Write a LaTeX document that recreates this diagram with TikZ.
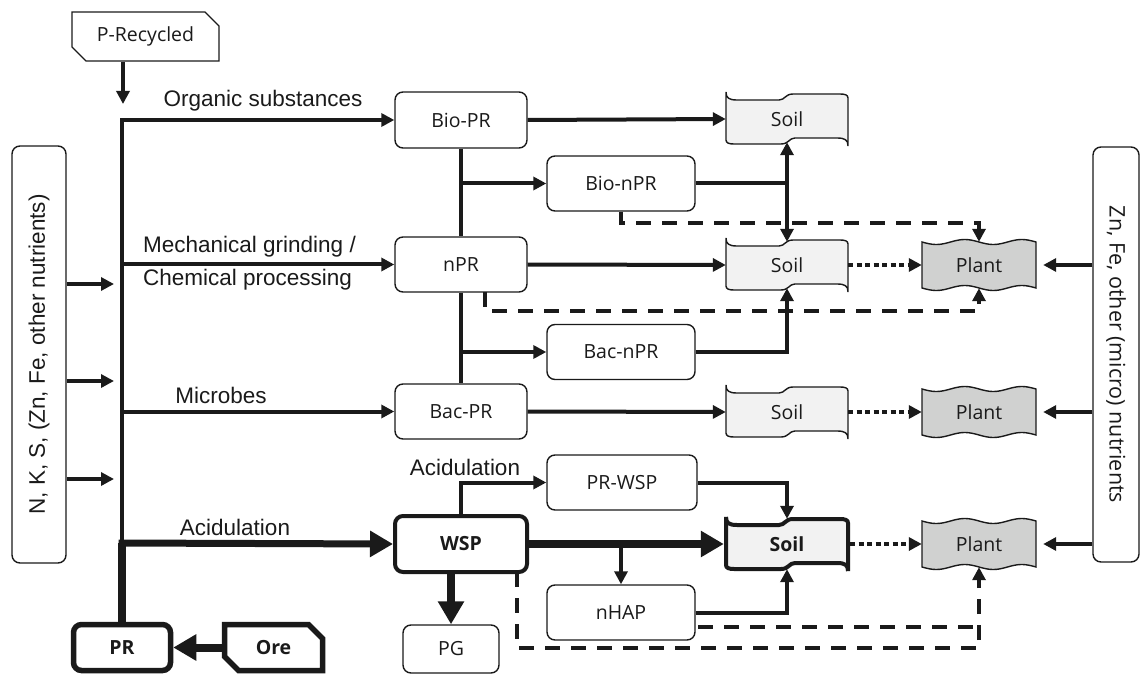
\documentclass[tikz,border=0pt]{standalone}
\usepackage{fontspec}
\setmainfont{Open Sans}
\newfontfamily\arialf{Liberation Sans}
\usetikzlibrary{arrows.meta,shapes.misc,calc}
\definecolor{ink}{HTML}{1A1A1A}
\definecolor{soilfill}{HTML}{F2F2F2}
\definecolor{plantfill}{HTML}{D0D1D0}
\newcommand\soilshape[3]{%
  \draw[#3,shift={(#1,#2)}] (-61,-27) .. controls (-61,-21) and (-58,-19) .. (-50,-19) -- (-8,-19)
   .. controls (-2,-19) and (-2,-25) .. (6,-25) -- (53,-25) .. controls (58,-25) and (61,-24) .. (61,-21)
   -- (61,27) .. controls (61,21) and (58,19) .. (50,19) -- (8,19) .. controls (2,19) and (2,25) .. (-6,25)
   -- (-53,25) .. controls (-58,25) and (-61,24) .. (-61,21) -- cycle;}
\newcommand\plantshape[2]{%
  \draw[plantst] plot[domain=-57:57,samples=49] ({#1+\x},{#2-23+2.5*sin(6.3158*(\x+57))})
   -- plot[domain=57:-57,samples=49] ({#1+\x},{#2+23+2.5*sin(6.3158*(\x+57))}) -- cycle;}
\tikzset{
  box/.style={draw=ink,line width=1.4pt,rounded corners=8pt,fill=white,text=ink,
    font=\fontsize{19.5}{23}\selectfont,inner sep=0pt},
  chbox/.style={draw=ink,line width=1.4pt,chamfered rectangle,chamfered rectangle xsep=7pt,
    chamfered rectangle ysep=7pt,chamfered rectangle corners={north east,south west},
    text=ink,font=\fontsize{19.5}{23}\selectfont,inner sep=0pt},
  thickbox/.style={line width=5.5pt},
  ghost/.style={inner sep=0pt,text=ink,font=\fontsize{19.5}{23}\selectfont},
  soilst/.style={draw=ink,line width=1.4pt,fill=soilfill},
  plantst/.style={draw=ink,line width=1.4pt,fill=plantfill},
  lab/.style={font=\arialf\fontsize{22.5}{33}\selectfont,text=ink,inner sep=0pt},
  conn/.style={draw=ink,line width=4pt},
  arr/.style={conn,-{Triangle[length=13pt,width=13pt]}},
  dsh/.style={conn,dash pattern=on 15pt off 11pt},
  dtt/.style={conn,dash pattern=on 5pt off 3.5pt,-{Triangle[length=13pt,width=13pt]}},
  bigarr/.style={draw=ink,line width=8pt,-{Triangle[length=23pt,width=25pt]}},
}
\begin{document}
\begin{tikzpicture}[x=1pt,y=-1pt]
\useasboundingbox (0,0) rectangle (1140,676);
% shapes
\soilshape{787}{119}{soilst}
\soilshape{787}{265}{soilst}
\soilshape{787}{412}{soilst}
\soilshape{787}{544}{soilst,line width=4pt}
\plantshape{979}{265}
\plantshape{979}{412}
\plantshape{979}{544}
% nodes
\node[chbox,minimum width=147pt,minimum height=49pt] (prec) at (145.5,36.5) {P-Recycled};
\node[box,minimum width=54pt,minimum height=417pt] (leftbox) at (39,354.5) {};
\node[lab,rotate=90] at (leftbox.center) {N, K, S, (Zn, Fe, other nutrients)};
\node[box,minimum width=46pt,minimum height=415pt] (rightbox) at (1116,354.5) {};
\node[ghost,rotate=-90,font=\fontsize{21.5}{25}\selectfont] at (rightbox.center) {Zn, Fe, other (micro) nutrients};
\node[box,minimum width=132pt,minimum height=56pt] (biopr) at (461,120) {Bio-PR};
\node[box,minimum width=148pt,minimum height=55pt] (bionpr) at (621,183.5) {Bio-nPR};
\node[box,minimum width=132pt,minimum height=55pt] (npr) at (461,264.5) {nPR};
\node[box,minimum width=148pt,minimum height=55pt] (bacnpr) at (621,352) {Bac-nPR};
\node[box,minimum width=132pt,minimum height=55pt] (bacpr) at (461,411.5) {Bac-PR};
\node[box,minimum width=150pt,minimum height=55pt] (prwsp) at (622,482.5) {PR-WSP};
\node[box,thickbox,line width=4pt,minimum width=132pt,minimum height=56pt,font=\fontsize{19.5}{23}\selectfont\bfseries] (wsp) at (461,544) {WSP};
\node[box,minimum width=148pt,minimum height=55pt] (nhap) at (621,612.5) {nHAP};
\node[box,minimum width=96pt,minimum height=48pt] (pg) at (451,649) {PG};
\node[box,thickbox,minimum width=97pt,minimum height=46pt,font=\fontsize{19.5}{23}\selectfont\bfseries] (pr) at (122,647.5) {PR};
\node[chbox,thickbox,minimum width=98pt,minimum height=46pt,font=\fontsize{19.5}{23}\selectfont\bfseries] (ore) at (273.5,647.5) {Ore};
\node[ghost,minimum width=122pt,minimum height=46pt] (soil1) at (787,119) {Soil};
\node[ghost,minimum width=122pt,minimum height=46pt] (soil2) at (787,265) {Soil};
\node[ghost,minimum width=122pt,minimum height=46pt] (soil3) at (787,412) {Soil};
\node[ghost,minimum width=126pt,minimum height=50pt,font=\fontsize{19.5}{23}\selectfont\bfseries] (soil4) at (787,544) {Soil};
\node[ghost,minimum width=114pt,minimum height=46pt] (plant1) at (979,265) {Plant};
\node[ghost,minimum width=114pt,minimum height=46pt] (plant2) at (979,412) {Plant};
\node[ghost,minimum width=114pt,minimum height=46pt] (plant3) at (979,544) {Plant};
% labels
\node[lab] at (263,101) {Organic substances};
\node[lab,anchor=west,align=left] at (143,263.5) {Mechanical grinding /\\Chemical processing};
\node[lab] at (221,395) {Microbes};
\node[lab] at (235,527) {Acidulation};
\node[lab] at (465,467) {Acidulation};
% coordinates
\coordinate (ptop) at (123,104);
\coordinate (mtop) at (122,120);
\coordinate (macid) at (122,543);
\coordinate (macidl) at (118.5,543);
\coordinate (in1) at (114,284);
\coordinate (in2) at (114,381);
\coordinate (in3) at (114,479);
\coordinate (nprd) at (485,292);
\coordinate (wspd) at (517,572);
\coordinate (nhapd) at (698,627);
% main trunk
\draw[arr] (prec.south -| ptop) -- (ptop);
\draw[conn,line width=4.5pt,-{Triangle[length=13pt,width=13pt]}] (macid) -- (mtop) -- (biopr.west);
\draw[draw=ink,line width=7.5pt] (macid) -- (pr.north);
\draw[arr] (npr.west -| mtop) -- (npr.west);
\draw[arr] (bacpr.west -| mtop) -- (bacpr.west);
\draw[bigarr,line width=7pt] (macidl) -- (wsp.west);
\draw[bigarr] (ore.west) -- (pr.east);
% left inputs
\foreach \c in {in1,in2,in3}{
  \draw[arr] (leftbox.east |- \c) -- (\c);
}
% right inputs
\foreach \pl in {plant1,plant2,plant3}{
  \draw[arr,shorten >=7pt] (rightbox.west |- \pl) -- (\pl.east);
}
% PR column
\draw[conn] (biopr.south) -- (npr.north);
\draw[conn] (npr.south) -- (bacpr.north);
\draw[arr] (biopr.south |- bionpr.west) -- (bionpr.west);
\draw[arr] (npr.south |- bacnpr.west) -- (bacnpr.west);
\draw[arr] (biopr.east) -- (soil1.west);
\draw[arr] (npr.east) -- (soil2.west);
\draw[arr] (bacpr.east) -- (soil3.west);
\draw[conn] (bionpr.east) -- (bionpr.east -| soil1.south);
\draw[conn,{Triangle[length=13pt,width=13pt]}-{Triangle[length=13pt,width=13pt]}] (soil1.south) -- (soil2.north);
\draw[arr] (bacnpr.east) -| (soil2.south);
% soil to plant
\draw[dtt] (soil2.east) -- (plant1.west);
\draw[dtt] (soil3.east) -- (plant2.west);
\draw[dtt] (soil4.east) -- (plant3.west);
% dashed
\draw[dsh,-{Triangle[length=13pt,width=13pt]}] (bionpr.south) -- ++(0,11) -| (plant1.north);
\draw[dsh,-{Triangle[length=13pt,width=13pt]}] (nprd) -- ++(0,19) -| (plant1.south);
% WSP
\draw[arr] (wsp.north) |- (prwsp.west);
\draw[arr] (prwsp.east) -| (soil4.north);
\draw[bigarr] (wsp.east) -- (soil4.west);
\draw[arr] (nhap.north |- wsp.east) -- (nhap.north);
\draw[arr] (nhap.east) -| (soil4.south);
\draw[bigarr] (wsp.south -| pg.north) -- (pg.north);
\draw[dsh] (nhapd) -- (nhapd -| plant3.south);
\draw[dsh,-{Triangle[length=13pt,width=13pt]}] (wspd) -- ++(0,76) -| (plant3.south);
\end{tikzpicture}
\end{document}
